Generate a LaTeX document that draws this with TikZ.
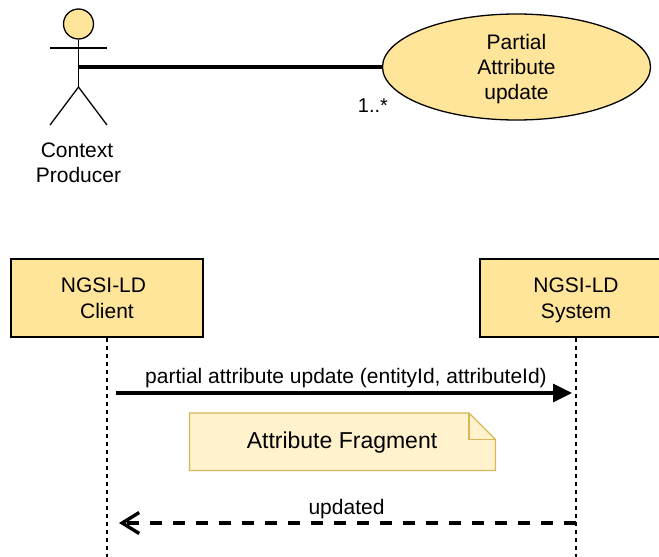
\documentclass[tikz,border=0pt]{standalone}
\usepackage{fontspec}
\setmainfont{Liberation Sans}
\usepackage{tikz}
\usetikzlibrary{arrows.meta,positioning,shapes.geometric}
\definecolor{actorfill}{HTML}{FFE599}
\definecolor{notefill}{HTML}{FFF2CC}
\definecolor{notedraw}{HTML}{D6B656}

\begin{document}
\begin{tikzpicture}[x=1pt,y=-1pt,inner sep=0pt]
  \useasboundingbox(0,0)rectangle(659,557);
  \fontsize{21}{25}\selectfont
  \tikzstyle{uc}=[ellipse,draw,line width=1.3pt,fill=actorfill,minimum width=268pt,minimum height=106pt,align=center]
  \tikzstyle{lf}=[rectangle,draw,line width=1.3pt,fill=actorfill,minimum width=192pt,minimum height=78pt,align=center]
  \tikzstyle{t}=[align=center]
  % actor and use case
  \node[circle,draw,line width=1.3pt,fill=actorfill,minimum size=30pt](head)at(78.5,24){};
  \coordinate(hip)at(78.5,87);
  \coordinate(armL)at(50,48);
  \coordinate(armR)at(107,48);
  \coordinate(legL)at(50,125);
  \coordinate(legR)at(107,125);
  \coordinate(waist)at(78,67);
  \tikzstyle{a}=[line width=1.3pt]
  \draw[a](head.south)--(hip);
  \draw[a](armL)--(armR);
  \foreach\d in{legL,legR}{\draw[a](hip)--(\d);}
  \node[t](actor)at(78.5,162.5){Context\hbox to 3pt{}\\Producer};
  \node[uc](update)at(516.5,67){\rule{0pt}{19.5pt}Partial\\Attribute\\update};
  \draw[line width=3.4pt](waist)--(update.west);
  \node[font=\fontsize{20}{25}\selectfont](mult)at(373,106){1..*};
  % lifelines
  \node[lf](client)at(107,298){\rule{0pt}{22pt}NGSI-LD\hbox to 7pt{}\\[1.5pt]Client\strut};
  \node[lf](system)at(576,298){\rule{0pt}{22pt}NGSI-LD\\[1.5pt]System\strut};
  \coordinate(clientEnd)at(107,557);
  \coordinate(systemEnd)at(576,557);
  \tikzstyle{l}=[line width=1.4pt,dash pattern=on 4pt off 4pt]
  \foreach\o/\d in{client/clientEnd,system/systemEnd}{\draw[l](\o.south)--(\d);}
  % messages
  \coordinate(reqS)at(116,393);
  \coordinate(reqE)at(572,393);
  \coordinate(resS)at(576,523);
  \coordinate(resE)at(119,523);
  \draw[line width=3.4pt,-{Triangle[length=19pt,width=18pt]}](reqS)--(reqE);
  \draw[line width=3.4pt,dash pattern=on 12pt off 11pt,-{Straight Barb[length=17pt,width=21pt,line width=3.4pt]}](resS)--(resE);
  \node(reqL)at(346,378){partial attribute update (entityId, attributeId)};
  \node(resL)at(346.5,509){updated};
  % note
  \draw[notedraw,line width=1.3pt,fill=notefill](189.5,413)--(469,413)--(495.5,439.5)--(495.5,470.5)--(189.5,470.5)--cycle;
  \draw[notedraw,line width=1.3pt](469,413)--(469,439.5)--(495.5,439.5);
  \node[font=\fontsize{23}{26}\selectfont](frag)at(342,443){Attribute Fragment};
\end{tikzpicture}
\end{document}
